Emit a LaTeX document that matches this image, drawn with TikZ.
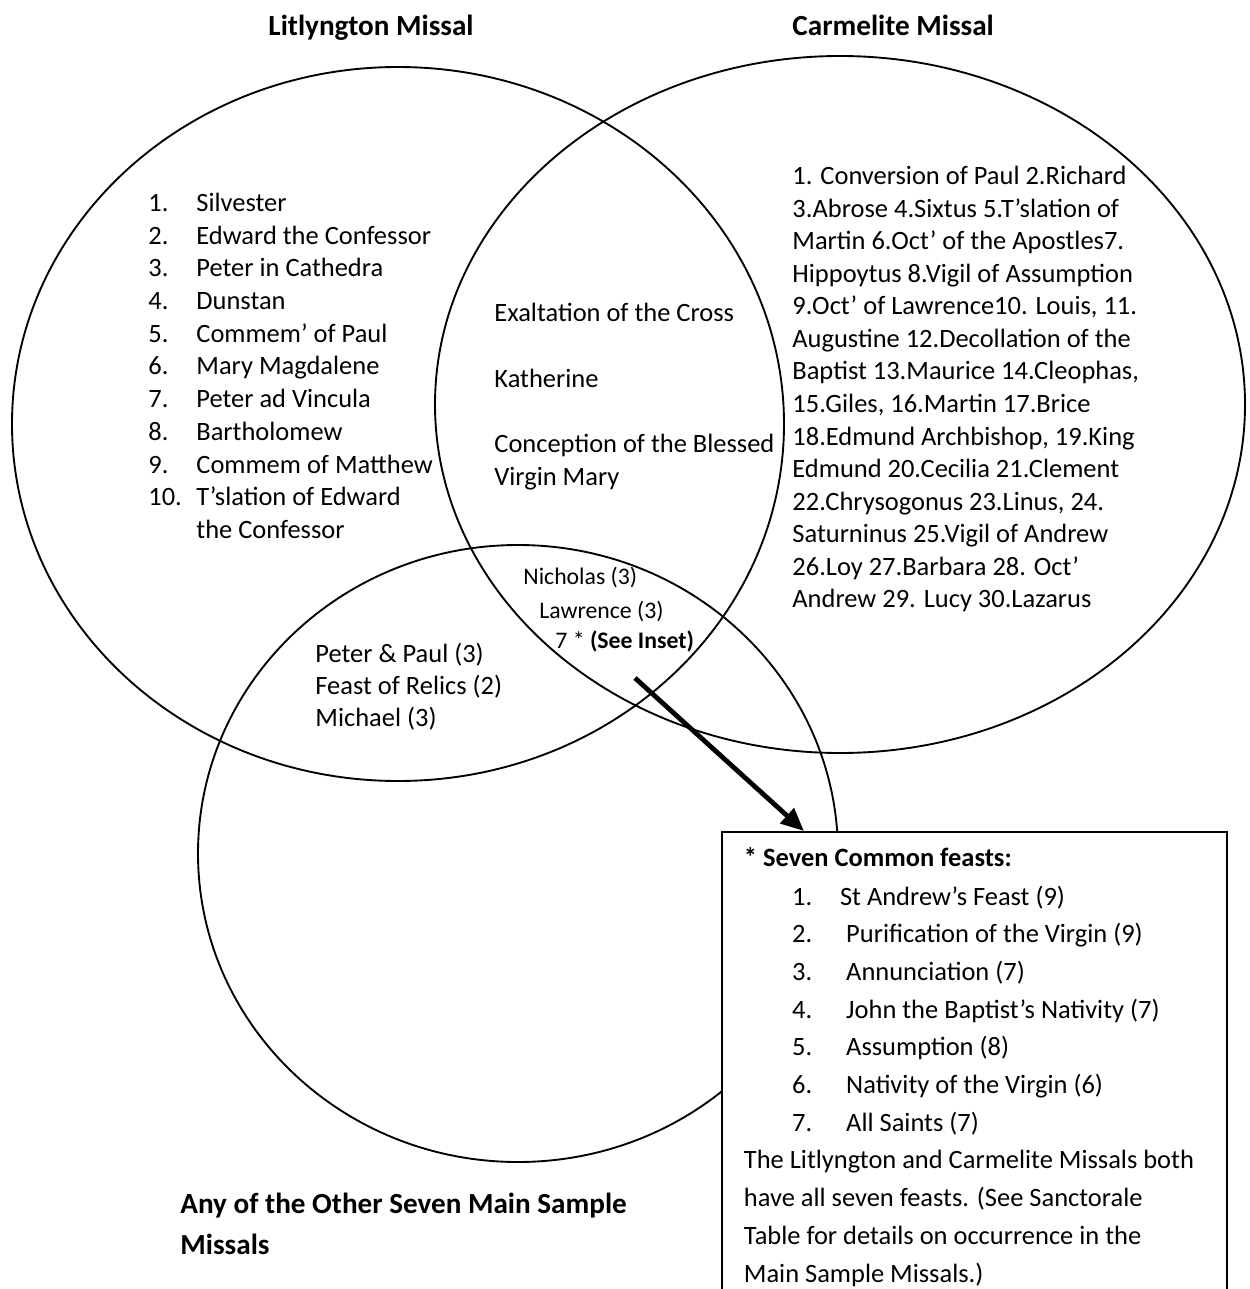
\documentclass[tikz,border=0pt]{standalone}
\usepackage{fontspec}
\setmainfont{Carlito}
\usetikzlibrary{arrows.meta}
\newcommand\fa{\fontsize{12.7}{15.5}\selectfont}
\newcommand\fb{\fontsize{11.4}{14}\selectfont}
\newcommand\fc{\fontsize{14}{17}\selectfont}
\begin{document}
\begin{tikzpicture}[x=0.48pt, y=-0.48pt,
  txt/.style={anchor=base west, inner sep=0pt, font=\fa},
  sml/.style={anchor=base west, inner sep=0pt, font=\fb},
  hd/.style={anchor=base west, inner sep=0pt, font=\fa\bfseries},
  bighd/.style={anchor=base west, inner sep=0pt, font=\fc\bfseries},
  setline/.style={line width=0.9pt},
  pointer/.style={line width=2.3pt, -{Triangle[length=11pt,width=9.5pt]}},
  insetbox/.style={draw, line width=0.8pt, fill=white, anchor=north west, inner sep=0pt, minimum width=242.4pt, minimum height=226pt}]
\useasboundingbox (0,0) rectangle (1250,1289);
\clip (0,0) rectangle (1250,1289);

% the three sets
\draw[setline] (398,424) ellipse [x radius=386, y radius=357];
\draw[setline] (840,404.5) ellipse [x radius=405, y radius=348.5];
\draw[setline] (518,853.5) ellipse [x radius=320, y radius=308.5];

% inset box
\node[insetbox] (inset) at (721,831) {};

% arrow
\coordinate (arrstart) at (635,678);
\draw[pointer] (arrstart) -- ([xshift=39.8pt]inset.north west);

% titles
\node[bighd] (t1) at (268,36) {Litlyngton Missal};
\node[bighd] (t2) at (792,36) {Carmelite Missal};

% Litlyngton only
\foreach \n/\t [count=\k from 0] in {1./Silvester, 2./Edward the Confessor, 3./Peter in Cathedra, 4./Dunstan, 5./Commem’ of Paul, 6./Mary Magdalene, 7./Peter ad Vincula, 8./Bartholomew, 9./Commem of Matthew, 10./T’slation of Edward} {
  \node[txt] (ln\k) at (148,211.5+32.7*\k) {\n};
  \node[txt] (lt\k) at (196,211.5+32.7*\k) {\t};
}
\node[txt] (lt10) at (196,538.5) {the Confessor};

% Litlyngton and Carmelite
\node[txt] (x1) at (494,322) {Exaltation of the Cross};
\node[txt] (x2) at (494,387) {Katherine};
\node[txt] (x3) at (494,452.5) {Conception of the Blessed};
\node[txt] (x4) at (494,485) {Virgin Mary};

% all three
\node[sml] (c1) at (523,584.5) {Nicholas (3)};
\node[sml] (c2) at (539,618) {Lawrence (3)};
\node[sml] (c3) at (555,648) {7 * \textbf{(See Inset)}};

% Litlyngton and others
\node[txt] (b1) at (315,662) {Peter \& Paul (3)};
\node[txt] (b2) at (315,694) {Feast of Relics (2)};
\node[txt] (b3) at (315,726) {Michael (3)};

% Carmelite only
\foreach \t [count=\k from 0] in {
 {1. Conversion of Paul 2.Richard},
 {3.Abrose 4.Sixtus 5.T’slation of},
 {Martin 6.Oct’ of the Apostles7.},
 {Hippoytus 8.Vigil of Assumption},
 {9.Oct’ of Lawrence10. Louis, 11.},
 {Augustine 12.Decollation of the},
 {Baptist 13.Maurice 14.Cleophas,},
 {15.Giles, 16.Martin 17.Brice},
 {18.Edmund Archbishop, 19.King},
 {Edmund 20.Cecilia 21.Clement},
 {22.Chrysogonus 23.Linus, 24.},
 {Saturninus 25.Vigil of Andrew},
 {26.Loy 27.Barbara 28. Oct’},
 {Andrew 29. Lucy 30.Lazarus}} {
  \node[txt] (cm\k) at (792,185+32.5*\k) {\t};
}

% others label
\node[bighd] (o1) at (180,1213) {Any of the Other Seven Main Sample};
\node[bighd] (o2) at (180,1254) {Missals};

% inset text
\node[hd] (i0) at (743.5,866) {* Seven Common feasts:};
\node[txt] (in1) at (791.7,905) {1.};
\node[txt] (it1) at (839.6,905) {St Andrew’s Feast (9)};
\foreach \n/\t [count=\k from 1] in {2./Purification of the Virgin (9), 3./Annunciation (7), 4./John the Baptist’s Nativity (7), 5./Assumption (8), 6./Nativity of the Virgin (6), 7./All Saints (7)} {
  \node[txt] (in\n) at (791.7,905+37.7*\k) {\n};
  \node[txt] (it\n) at (845.8,905+37.7*\k) {\t};
}
\node[txt] (p1) at (743.5,1168.9) {The Litlyngton and Carmelite Missals both};
\node[txt] (p2) at (743.5,1206.6) {have all seven feasts. (See Sanctorale};
\node[txt] (p3) at (743.5,1244.3) {Table for details on occurrence in the};
\node[txt] (p4) at (743.5,1282) {Main Sample Missals.)};
\end{tikzpicture}
\end{document}
